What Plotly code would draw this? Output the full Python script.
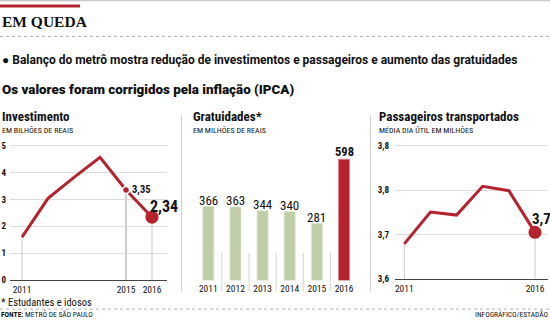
import plotly.graph_objects as go

W, H = 550, 321

# ---------------- data ----------------
inv_years = [2011, 2012, 2013, 2014, 2015, 2016]
inv_values = [1.6, 3.04, 3.82, 4.57, 3.35, 2.34]
inv_yticks = [0, 1, 2, 3, 4, 5]
inv_xticks = [2011, 2015, 2016]

grat_years = [2011, 2012, 2013, 2014, 2015, 2016]
grat_values = [366, 363, 344, 340, 281, 598]

pass_years = [2011, 2012, 2013, 2014, 2015, 2016]
pass_values = [3.679, 3.751, 3.744, 3.809, 3.799, 3.705]
pass_yticks = [3.6, 3.7, 3.8, 3.9]
pass_yticktext = ["3,6", "3,7", "3,8", "3,8"]
pass_xticks = [2011, 2016]

RED = "#b5232f"
GREEN = "#bfcea8"
GRID = "#dcdcdc"
COND = "Roboto Condensed, Liberation Sans Narrow, Roboto, sans-serif"
SANS = "Roboto, sans-serif"


def px(x):
    return x / W


def py(y):
    return 1 - y / H


def lin_range(v0, p0, v1, p1, pmin, pmax):
    """value range for pixel extent [pmin, pmax] given two calibration points"""
    s = (p1 - p0) / (v1 - v0)
    return [v0 + (pmin - p0) / s, v0 + (pmax - p0) / s]


fig = go.Figure()

# ---------- panel 1: Investimento ----------
fig.add_trace(go.Scatter(x=inv_years, y=inv_values, mode="lines",
                         line=dict(color=RED, width=3), xaxis="x", yaxis="y",
                         hoverinfo="skip"))
fig.add_trace(go.Scatter(x=[inv_years[4]], y=[inv_values[4]], mode="markers",
                         marker=dict(color=RED, size=7, line=dict(color="white", width=1.5)),
                         xaxis="x", yaxis="y"))
fig.add_trace(go.Scatter(x=[inv_years[5]], y=[inv_values[5]], mode="markers",
                         marker=dict(color=RED, size=13, line=dict(width=0)),
                         xaxis="x", yaxis="y"))

# ---------- panel 2: Gratuidades ----------
fig.add_trace(go.Bar(x=grat_years, y=grat_values, width=0.41,
                     marker=dict(color=[GREEN] * 5 + [RED],
                                 line=dict(color=["#dfe8d2"] * 5 + ["#e08a92"], width=0.8)),
                     xaxis="x2", yaxis="y2", hoverinfo="skip"))

# ---------- panel 3: Passageiros ----------
fig.add_trace(go.Scatter(x=pass_years, y=pass_values, mode="lines",
                         line=dict(color=RED, width=3), xaxis="x3", yaxis="y3",
                         hoverinfo="skip"))
fig.add_trace(go.Scatter(x=[pass_years[5]], y=[pass_values[5]], mode="markers",
                         marker=dict(color=RED, size=13, line=dict(width=0)),
                         xaxis="x3", yaxis="y3"))

tickfont_b = dict(family=COND, size=9, color="#111", weight="bold")
tickfont = dict(family=COND, size=9.5, color="#111")

layout = dict(
    width=W, height=H, margin=dict(l=0, r=0, t=0, b=0),
    paper_bgcolor="white", plot_bgcolor="rgba(0,0,0,0)", showlegend=False,
    # panel 1
    xaxis=dict(domain=[px(10), px(167)],
               range=lin_range(2011, 22, 2016, 152, 10, 167),
               tickvals=inv_xticks, ticktext=[str(v) for v in inv_xticks],
               showgrid=False, zeroline=False, showline=True, linecolor="#444", linewidth=1.2,
               ticks="", tickfont=tickfont, anchor="y", ticklabelstandoff=0, fixedrange=True),
    yaxis=dict(domain=[py(284.5), py(140)],
               range=[0, (284.5 - 140) / 27.3],
               tickvals=inv_yticks, ticktext=[str(v) for v in inv_yticks],
               showgrid=True, gridcolor=GRID, gridwidth=1, zeroline=False,
               showline=False, ticks="", tickfont=tickfont_b, anchor="x",
               ticklabelstandoff=3, fixedrange=True),
    # panel 2
    xaxis2=dict(domain=[px(195), px(358)],
                range=lin_range(2011, 208.3, 2016, 344, 195, 358),
                tickvals=grat_years, ticktext=[str(v) for v in grat_years],
                showgrid=False, zeroline=False, showline=False, ticks="",
                tickfont=tickfont, anchor="y2", ticklabelstandoff=1, fixedrange=True),
    yaxis2=dict(domain=[py(285), py(140)],
                range=[0, (285 - 140) / 0.2062],
                showgrid=False, zeroline=False, showline=False, showticklabels=False,
                anchor="x2", fixedrange=True),
    # panel 3
    xaxis3=dict(domain=[px(395), px(548)],
                range=lin_range(2011, 404.3, 2016, 535, 395, 548),
                tickvals=pass_xticks, ticktext=[str(v) for v in pass_xticks],
                showgrid=False, zeroline=False, showline=True, linecolor="#444", linewidth=1.2,
                ticks="", tickfont=tickfont, anchor="y3", ticklabelstandoff=1, fixedrange=True),
    yaxis3=dict(domain=[py(283.3), py(140)],
                range=[3.6, 3.6 + (283.3 - 140) / 450],
                tickvals=pass_yticks, ticktext=pass_yticktext,
                showgrid=True, gridcolor=GRID, gridwidth=1, zeroline=False,
                showline=False, ticks="", tickfont=tickfont_b, anchor="x3",
                ticklabelstandoff=5, fixedrange=True),
)
fig.update_layout(**layout)

shapes = []
# top rules
shapes.append(dict(type="line", xref="paper", yref="paper", x0=0, x1=1, y0=py(0.5), y1=py(0.5),
                   line=dict(color="#c8c8c8", width=1.5)))
shapes.append(dict(type="rect", xref="paper", yref="paper", x0=0, x1=px(80), y0=py(7.5), y1=py(4.5),
                   fillcolor=RED, line=dict(width=0)))
# dotted rules
for yy in (37, 314):
    shapes.append(dict(type="line", xref="paper", yref="paper", x0=0, x1=1, y0=py(yy), y1=py(yy),
                       line=dict(color="#b0b0b0", width=1, dash="dot")))
# panel separators
for xx in (181.5, 370.5):
    shapes.append(dict(type="line", xref="paper", yref="paper", x0=px(xx), x1=px(xx),
                       y0=py(117), y1=py(296), line=dict(color="#cfcfcf", width=1)))
# drop lines panel 1
for i, c in ((0, "#c8c8c8"), (4, "#9a9a9a"), (5, "#c8c8c8")):
    shapes.append(dict(type="line", xref="x", yref="y", x0=inv_years[i], x1=inv_years[i],
                       y0=0, y1=inv_values[i], line=dict(color=c, width=1), layer="below"))
# drop lines panel 3
for i in (0, 5):
    shapes.append(dict(type="line", xref="x3", yref="y3", x0=pass_years[i], x1=pass_years[i],
                       y0=3.6, y1=pass_values[i], line=dict(color="#c8c8c8", width=1), layer="below"))
# bar separators
for a, b in zip(grat_years[:-1], grat_years[1:]):
    shapes.append(dict(type="line", xref="x2", yref="paper", x0=(a + b) / 2, x1=(a + b) / 2,
                       y0=py(296), y1=py(257), line=dict(color="#d5d5d5", width=1)))
fig.update_layout(shapes=shapes)

ann = []


def text(x, y, s, size, family=COND, color="#111", xanchor="left", weight="normal", **kw):
    ann.append(dict(x=px(x), y=py(y), xref="paper", yref="paper", text=s, showarrow=False,
                    xanchor=xanchor, yanchor="middle",
                    font=dict(family=family, size=size, color=color, weight=weight), **kw))


text(0, 22, "EM QUEDA", 15.5, family="Liberation Serif, DejaVu Serif, serif", weight="bold")
text(0, 61, "● Balanço do metrô mostra redução de investimentos e passageiros e aumento das gratuidades",
     12, family=SANS, weight="bold")
text(0, 91, "Os valores foram corrigidos pela inflação (IPCA)", 13.4, family=SANS, weight=900)

text(0, 118, "Investimento", 13, weight="bold")
text(0, 133, "EM BILHÕES DE REAIS", 8)
text(191, 118, "Gratuidades*", 13, weight="bold")
text(191, 133, "EM MILHÕES DE REAIS", 8)
text(377, 118, "Passageiros transportados", 13, weight="bold")
text(377, 133, "MÉDIA DIA ÚTIL EM MILHÕES", 8)

# value labels (positions from data)
ann.append(dict(x=inv_years[4], y=inv_values[4], xref="x", yref="y", text="3,35", showarrow=False,
                xanchor="left", yanchor="middle", xshift=4, yshift=1,
                font=dict(family=COND, size=10.5, color="#111", weight="bold")))
ann.append(dict(x=inv_years[5], y=inv_values[5], xref="x", yref="y", text="2,34", showarrow=False,
                xanchor="left", yanchor="middle", xshift=-4, yshift=11,
                font=dict(family=COND, size=16, color="#111", weight="bold")))
for i, (yr, v) in enumerate(zip(grat_years, grat_values)):
    last = i == len(grat_values) - 1
    ann.append(dict(x=yr, y=v, xref="x2", yref="y2", text=str(v), showarrow=False,
                    xanchor="center", yanchor="middle", yshift=6 if not last else 8,
                    font=dict(family=COND, size=13 if not last else 12.5,
                              color="#111", weight="bold" if last else "normal")))
ann.append(dict(x=pass_years[5], y=pass_values[5], xref="x3", yref="y3", text="3,7", showarrow=False,
                xanchor="left", yanchor="middle", xshift=-5, yshift=13,
                font=dict(family=COND, size=15, color="#111", weight="bold")))

text(0, 307, "* Estudantes e idosos", 10.5, borderpad=0)
text(0, 319, "<b>FONTE:</b> METRÔ DE SÃO PAULO", 7.5, borderpad=0)
text(549, 319, "INFOGRÁFICO/ESTADÃO", 7.5, xanchor="right", borderpad=0)

fig.update_layout(annotations=ann)

fig.write_html("out.html")
